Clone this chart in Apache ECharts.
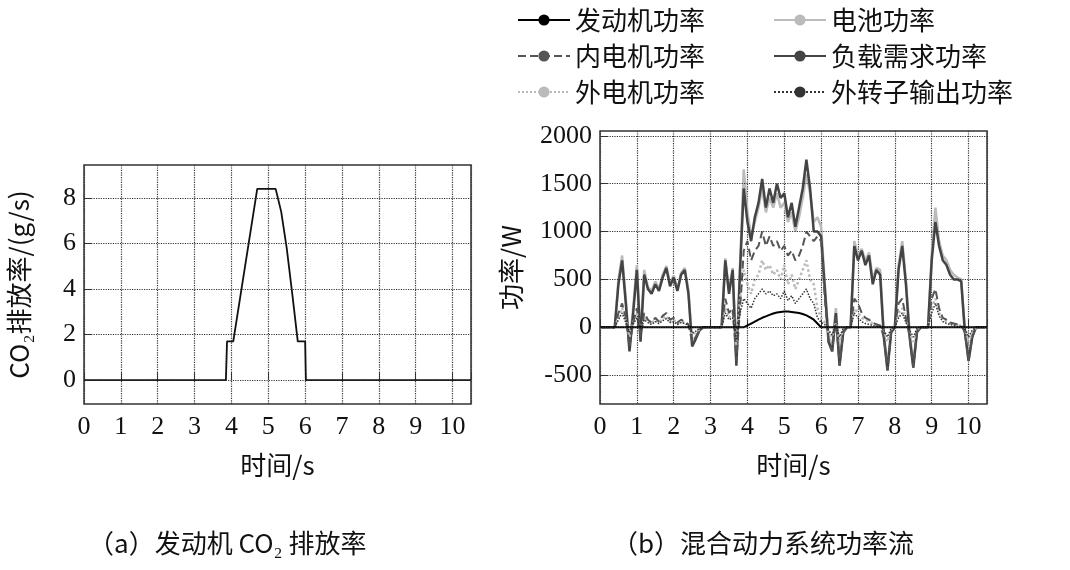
<!DOCTYPE html>
<html>
<head>
<meta charset="utf-8">
<script src="https://cdn.jsdelivr.net/npm/echarts@6/dist/echarts.min.js"></script>
<style>html,body{margin:0;background:#fff}#main{width:1070px;height:570px}</style>
</head>
<body>
<div id="main"></div>
<script>
// 左图：CO2 排放率
const co2Time = [0, 3.85, 3.88, 4.05, 4.7, 5.2, 5.35, 5.5, 5.65, 5.8, 5.9, 6.0, 6.02, 10.5];
const co2Rate = [0, 0, 1.7, 1.7, 8.4, 8.4, 7.4, 5.8, 3.8, 1.7, 1.7, 1.7, 0, 0];

// 右图：功率流，时间步 0.1 s
const time = Array.from({length: 106}, (_, i) => +(i * 0.1).toFixed(1));
const loadPower = [0,0,0,0,0,450,700,250,-250,150,
  600,-150,550,400,350,450,380,520,620,430,
  520,380,550,600,350,-200,-120,-30,0,0,
  0,0,0,0,700,350,600,-400,600,1450,
  1100,900,1150,1300,1550,1250,1450,1300,1500,1350,
  1400,1150,1300,1050,1250,1450,1750,1450,1000,1000,
  950,400,-150,-250,150,-400,-50,0,0,850,
  700,800,650,750,450,600,550,-100,-450,-50,
  0,600,850,450,-100,-420,-50,0,0,0,
  700,1100,850,700,650,550,500,500,480,-50,
  -350,-100,0,0,0,0];
const batteryPower = [0,0,0,0,0,500,750,300,-200,200,
  650,-100,600,420,380,480,400,550,640,460,
  540,400,570,620,380,-150,-100,-20,0,0,
  0,0,0,0,720,380,620,-350,650,1650,
  1200,950,1100,1250,1450,1200,1350,1250,1400,1250,
  1300,1100,1200,1000,1150,1350,1600,1400,1100,1150,
  1050,450,-100,-200,200,-350,-30,0,0,900,
  750,820,700,780,500,620,600,-50,-400,-30,
  0,650,900,500,-50,-380,-30,0,0,0,
  750,1250,900,750,700,600,550,520,500,-30,
  -300,-80,0,0,0,0];
const innerMotorPower = [0,0,0,0,0,150,250,100,-200,50,
  200,-100,150,80,50,100,60,120,150,80,
  100,50,80,60,30,-150,-100,-30,0,0,
  0,0,0,0,300,150,200,-350,200,800,
  900,700,800,850,1000,850,950,850,900,800,
  850,750,800,700,750,850,1000,950,900,950,
  900,300,-150,-250,100,-400,-50,0,0,300,
  250,150,100,80,50,30,20,-100,-450,-50,
  0,250,300,100,-100,-420,-50,0,0,0,
  300,400,200,100,80,50,40,30,20,-50,
  -350,-100,0,0,0,0];
const outerMotorPower = [0,0,0,0,0,100,200,80,-100,50,
  150,-50,100,60,40,80,50,90,120,60,
  80,40,60,50,30,-80,-50,-20,0,0,
  0,0,0,0,200,100,150,-200,300,600,
  450,350,500,550,700,600,650,550,600,500,
  650,450,550,400,500,600,700,500,450,200,
  100,50,-50,-100,50,-150,-20,0,0,200,
  150,100,80,60,40,30,20,-50,-150,-20,
  0,150,200,80,-50,-150,-20,0,0,0,
  200,300,150,80,60,40,30,20,20,-20,
  -150,-50,0,0,0,0];
const outerRotorPower = [0,0,0,0,0,80,150,50,-50,30,
  100,-30,80,50,30,60,40,70,90,50,
  60,30,50,40,20,-60,-40,-10,0,0,
  0,0,0,0,150,80,100,-150,150,300,
  250,200,300,350,400,350,380,330,350,300,
  380,280,330,250,300,350,400,300,250,100,
  50,30,-30,-80,30,-100,-10,0,0,150,
  100,60,40,30,20,10,10,-30,-100,-10,
  0,100,150,50,-30,-100,-10,0,0,0,
  150,250,120,60,40,30,20,10,10,-10,
  -100,-30,0,0,0,0];
const enginePower = [0,0,0,0,0,0,0,0,0,0,
  0,0,0,0,0,0,0,0,0,0,
  0,0,0,0,0,0,0,0,0,0,
  0,0,0,0,0,0,0,0,0,0,
  20,40,60,80,100,115,130,145,155,160,
  165,165,160,155,150,140,125,105,80,40,
  0,0,0,0,0,0,0,0,0,0,
  0,0,0,0,0,0,0,0,0,0,
  0,0,0,0,0,0,0,0,0,0,
  0,0,0,0,0,0,0,0,0,0,
  0,0,0,0,0,0];
const leftYTicks = [0, 2, 4, 6, 8];
const rightYTicks = [-500, 0, 500, 1000, 1500, 2000];

const pairs = (xs, ys) => xs.map((x, i) => [x, ys[i]]);
const serif = 'Liberation Serif';
const cjk = 'Noto Sans CJK SC';
const gridLine = {type: 'dotted', color: '#333', width: 1.2};

function yGridLines(vals) {
  return {
    silent: true, symbol: 'none', label: {show: false},
    lineStyle: gridLine,
    data: vals.map(v => ({yAxis: v}))
  };
}

function xAxisOf(gi) {
  return {
    type: 'value', gridIndex: gi, min: 0, max: 10.5, interval: 1,
    name: '时间/s', nameLocation: 'middle', nameGap: 48,
    nameTextStyle: {fontFamily: cjk, fontSize: 26, color: '#111'},
    axisLine: {show: false},
    axisTick: {inside: true, length: 8, lineStyle: {color: '#333'}},
    axisLabel: {fontFamily: serif, fontSize: 26, color: '#111', margin: 10,
      customValues: [0,1,2,3,4,5,6,7,8,9,10]},
    splitLine: {show: true, lineStyle: gridLine}
  };
}

function legendOf(id, left, names) {
  return {
    id: id, orient: 'vertical', left: left, top: 2, itemGap: 10,
    itemWidth: 52, itemHeight: 14,
    textStyle: {fontFamily: cjk, fontSize: 26, color: '#111'},
    data: names
  };
}

const chart = echarts.init(document.getElementById('main'));
chart.setOption({
  backgroundColor: '#fff',
  animation: false,
  grid: [
    {left: 84, top: 165, width: 387, height: 239, show: true, borderColor: '#333', borderWidth: 1.5, backgroundColor: 'transparent'},
    {left: 600, top: 131, width: 387, height: 273, show: true, borderColor: '#333', borderWidth: 1.5, backgroundColor: 'transparent'}
  ],
  xAxis: [xAxisOf(0), xAxisOf(1)],
  yAxis: [
    {type: 'value', gridIndex: 0, min: -1.05, max: 9.45,
      name: 'CO₂排放率/(g/s)', nameLocation: 'middle', nameGap: 52,
      nameTextStyle: {fontFamily: cjk, fontSize: 26, color: '#111'},
      axisLine: {show: false}, splitLine: {show: false},
      axisTick: {inside: true, length: 8, customValues: leftYTicks, lineStyle: {color: '#333'}},
      axisLabel: {fontFamily: serif, fontSize: 26, color: '#111', customValues: leftYTicks}},
    {type: 'value', gridIndex: 1, min: -800, max: 2050,
      name: '功率/W', nameLocation: 'middle', nameGap: 76,
      nameTextStyle: {fontFamily: cjk, fontSize: 26, color: '#111'},
      axisLine: {show: false}, splitLine: {show: false},
      axisTick: {inside: true, length: 8, customValues: rightYTicks, lineStyle: {color: '#333'}},
      axisLabel: {fontFamily: serif, fontSize: 26, color: '#111', customValues: rightYTicks,
        formatter: v => String(v)}}
  ],
  legend: [
    legendOf('legendLeft', 512, ['发动机功率', '内电机功率', '外电机功率']),
    legendOf('legendRight', 768, ['电池功率', '负载需求功率', '外转子输出功率'])
  ],
  series: [
    {name: 'CO2', type: 'line', xAxisIndex: 0, yAxisIndex: 0, data: pairs(co2Time, co2Rate),
      symbol: 'none', lineStyle: {color: '#111', width: 1.8}, markLine: yGridLines(leftYTicks)},
    {name: '电池功率', type: 'line', xAxisIndex: 1, yAxisIndex: 1, data: pairs(time, batteryPower),
      symbol: 'none', lineStyle: {color: '#bbb', width: 2.5}, itemStyle: {color: '#bbb'}, markLine: yGridLines(rightYTicks)},
    {name: '负载需求功率', type: 'line', xAxisIndex: 1, yAxisIndex: 1, data: pairs(time, loadPower),
      symbol: 'none', lineStyle: {color: '#444', width: 2.5}, itemStyle: {color: '#444'}},
    {name: '外电机功率', type: 'line', xAxisIndex: 1, yAxisIndex: 1, data: pairs(time, outerMotorPower),
      symbol: 'none', lineStyle: {color: '#bbb', width: 2.5, type: 'dotted'}, itemStyle: {color: '#bbb'}},
    {name: '内电机功率', type: 'line', xAxisIndex: 1, yAxisIndex: 1, data: pairs(time, innerMotorPower),
      symbol: 'none', lineStyle: {color: '#555', width: 2, type: 'dashed'}, itemStyle: {color: '#555'}},
    {name: '外转子输出功率', type: 'line', xAxisIndex: 1, yAxisIndex: 1, data: pairs(time, outerRotorPower),
      symbol: 'none', lineStyle: {color: '#333', width: 1.5, type: 'dotted'}, itemStyle: {color: '#333'}},
    {name: '发动机功率', type: 'line', xAxisIndex: 1, yAxisIndex: 1, data: pairs(time, enginePower),
      symbol: 'none', lineStyle: {color: '#000', width: 2}, itemStyle: {color: '#000'}}
  ],
  graphic: [
    {type: 'text', left: 88, top: 530, style: {text: '（a）发动机 CO₂ 排放率', font: '26px "Noto Sans CJK SC"', fill: '#111'}},
    {type: 'text', left: 612, top: 530, style: {text: '（b）混合动力系统功率流', font: '26px "Noto Sans CJK SC"', fill: '#111'}}
  ]
});
</script>
</body>
</html>
